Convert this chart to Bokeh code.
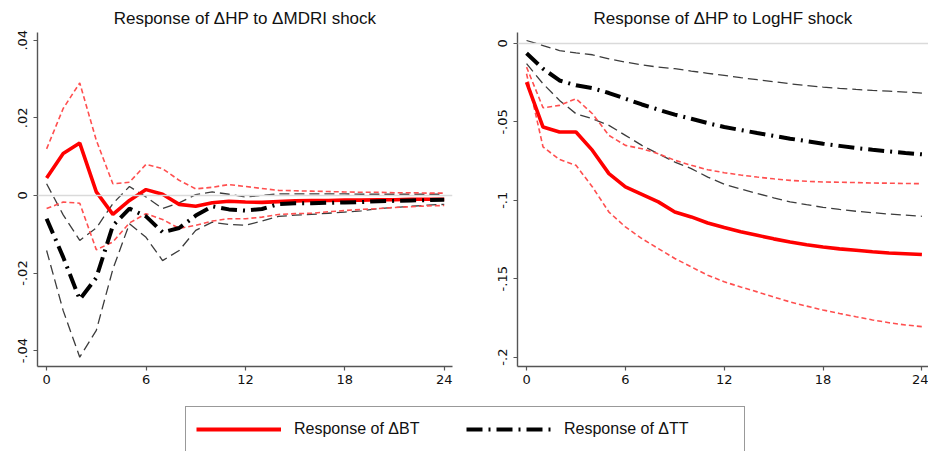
from bokeh.plotting import figure
from bokeh.layouts import column, row
from bokeh.models import (CustomJSTickFormatter, FixedTicker, Range1d, Span,
                          Legend, LegendItem)
from bokeh.embed import file_html
from bokeh.resources import INLINE

# ---------------- data ----------------
horizon = list(range(25))

# Panel 1: Response of dHP to dMDRI shock
mdri_bt = [0.0045, 0.0108, 0.0135, 0.0009, -0.0049, -0.0013, 0.0015, 0.0003, -0.0023,
           -0.0028, -0.0019, -0.0015, -0.0017, -0.0018, -0.0016, -0.0014, -0.0013,
           -0.0013, -0.0012, -0.0012, -0.0011, -0.0011, -0.0010, -0.0010, -0.0010]
mdri_bt_up = [0.0120, 0.0224, 0.0290, 0.0142, 0.0030, 0.0034, 0.0080, 0.0069, 0.0039,
              0.0017, 0.0021, 0.0028, 0.0023, 0.0018, 0.0013, 0.0012, 0.0011, 0.0010,
              0.0009, 0.0008, 0.0008, 0.0007, 0.0007, 0.0006, 0.0006]
mdri_bt_lo = [-0.0034, -0.0017, -0.0020, -0.0140, -0.0120, -0.0071, -0.0047, -0.0062,
              -0.0085, -0.0077, -0.0066, -0.0060, -0.0060, -0.0056, -0.0049, -0.0047,
              -0.0046, -0.0042, -0.0039, -0.0036, -0.0034, -0.0031, -0.0029, -0.0027,
              -0.0026]
mdri_tt = [-0.0060, -0.0159, -0.0268, -0.0212, -0.0078, -0.0034, -0.0054, -0.0095,
           -0.0084, -0.0052, -0.0028, -0.0036, -0.0039, -0.0035, -0.0022, -0.0020,
           -0.0020, -0.0019, -0.0018, -0.0017, -0.0015, -0.0014, -0.0013, -0.0012,
           -0.0011]
mdri_tt_up = [0.0030, -0.0050, -0.0116, -0.0084, -0.0021, 0.0023, -0.0004, -0.0034,
              -0.0019, 0.0002, 0.0009, 0.0003, -0.0004, 0.0000, 0.0004, 0.0004, 0.0004,
              0.0004, 0.0004, 0.0003, 0.0003, 0.0003, 0.0003, 0.0003, 0.0003]
mdri_tt_lo = [-0.0142, -0.0297, -0.0417, -0.0348, -0.0190, -0.0073, -0.0108, -0.0168,
              -0.0142, -0.0090, -0.0069, -0.0075, -0.0077, -0.0066, -0.0054, -0.0051,
              -0.0049, -0.0046, -0.0043, -0.0040, -0.0034, -0.0031, -0.0028, -0.0025,
              -0.0023]

# Panel 2: Response of dHP to LogHF shock
hf_bt = [-0.0246, -0.0533, -0.0565, -0.0565, -0.0682, -0.0830, -0.0915, -0.0962, -0.1010,
         -0.1075, -0.1106, -0.1145, -0.1174, -0.1200, -0.1223, -0.1246, -0.1266, -0.1283,
         -0.1298, -0.1310, -0.1319, -0.1328, -0.1336, -0.1341, -0.1346]
hf_bt_up = [-0.0151, -0.0410, -0.0395, -0.0352, -0.0448, -0.0586, -0.0650, -0.0671,
            -0.0703, -0.0745, -0.0777, -0.0805, -0.0824, -0.0839, -0.0852, -0.0863,
            -0.0873, -0.0879, -0.0883, -0.0885, -0.0887, -0.0890, -0.0891, -0.0893,
            -0.0894]
hf_bt_lo = [-0.0193, -0.0660, -0.0740, -0.0777, -0.0915, -0.1075, -0.1170, -0.1244,
            -0.1308, -0.1371, -0.1425, -0.1478, -0.1520, -0.1553, -0.1584, -0.1617,
            -0.1648, -0.1675, -0.1700, -0.1722, -0.1743, -0.1763, -0.1781, -0.1795,
            -0.1806]
hf_tt = [-0.0062, -0.0161, -0.0236, -0.0267, -0.0285, -0.0316, -0.0352, -0.0389, -0.0422,
         -0.0454, -0.0480, -0.0508, -0.0533, -0.0552, -0.0571, -0.0589, -0.0607, -0.0623,
         -0.0639, -0.0653, -0.0667, -0.0678, -0.0688, -0.0698, -0.0707]
hf_tt_up = [0.0019, -0.0013, -0.0045, -0.0060, -0.0072, -0.0098, -0.0119, -0.0136,
            -0.0151, -0.0161, -0.0176, -0.0190, -0.0204, -0.0218, -0.0231, -0.0244,
            -0.0257, -0.0268, -0.0278, -0.0286, -0.0293, -0.0299, -0.0304, -0.0310,
            -0.0316]
hf_tt_lo = [-0.0129, -0.0257, -0.0363, -0.0448, -0.0480, -0.0522, -0.0586, -0.0650,
            -0.0703, -0.0756, -0.0798, -0.0852, -0.0898, -0.0928, -0.0957, -0.0984,
            -0.1010, -0.1028, -0.1045, -0.1058, -0.1070, -0.1079, -0.1088, -0.1095,
            -0.1102]

x_ticks = [0, 6, 12, 18, 24]
y_ticks_left = [-0.04, -0.02, 0, 0.02, 0.04]
y_ticks_right = [-0.2, -0.15, -0.1, -0.05, 0]

titles = ["Response of \u0394HP to \u0394MDRI shock", "Response of \u0394HP to LogHF shock"]
legend_labels = ["Response of \u0394BT", "Response of \u0394TT"]

# ---------------- styles ----------------
FONT = "DejaVu Sans"
TFONT = "Liberation Sans"
RED = "#ff0000"
RED_BAND = "#ff4f4f"
BLACK_BAND = "#3c3c3c"
DASHDOT = "16 6 2 6"

fmt = CustomJSTickFormatter(code="""
    let s = String(Number(tick.toFixed(4)));
    return s.replace('0.', '.');
""")


def style_axes(p, yticks):
    p.xaxis.ticker = FixedTicker(ticks=x_ticks)
    p.yaxis.ticker = FixedTicker(ticks=yticks)
    p.yaxis.formatter = fmt
    for ax in (p.xaxis[0], p.yaxis[0]):
        ax.axis_line_color = "#555555"
        ax.axis_line_width = 1.4
        ax.major_tick_line_color = "#555555"
        ax.major_tick_line_width = 1.2
        ax.major_tick_in = 0
        ax.major_tick_out = 4
        ax.minor_tick_line_color = None
        ax.major_label_text_font = FONT
        ax.major_label_text_font_size = "13px"
        ax.major_label_text_color = "#111111"
    p.yaxis.major_label_orientation = "vertical"
    p.yaxis.major_label_standoff = 6
    p.xaxis.major_label_standoff = 4
    p.xgrid.grid_line_color = None
    p.ygrid.grid_line_color = None
    p.outline_line_color = None
    p.title.text_font = TFONT
    p.title.text_font_size = "17px"
    p.title.text_font_style = "normal"
    p.title.text_color = "#111111"
    p.title.align = "center"
    p.title.standoff = 9
    p.add_layout(Span(location=0, dimension="width", line_color="#dadada", line_width=1.5))


def draw(p, bt, bt_up, bt_lo, tt, tt_up, tt_lo):
    p.line(horizon, tt_up, line_color=BLACK_BAND, line_width=1.3, line_dash="10 5")
    p.line(horizon, tt_lo, line_color=BLACK_BAND, line_width=1.3, line_dash="10 5")
    p.line(horizon, bt_up, line_color=RED_BAND, line_width=1.6, line_dash="5 3")
    p.line(horizon, bt_lo, line_color=RED_BAND, line_width=1.6, line_dash="5 3")
    p.line(horizon, bt, line_color=RED, line_width=3.6)
    p.line(horizon, tt, line_color="black", line_width=4, line_dash=DASHDOT)


p1 = figure(width=470, height=395, output_backend="svg", toolbar_location=None,
            x_range=Range1d(-0.55, 24.5), y_range=Range1d(-0.0441, 0.042),
            title=titles[0], min_border_left=37, min_border_right=18,
            min_border_top=32, min_border_bottom=29)
style_axes(p1, y_ticks_left)
draw(p1, mdri_bt, mdri_bt_up, mdri_bt_lo, mdri_tt, mdri_tt_up, mdri_tt_lo)

p2 = figure(width=458, height=395, output_backend="svg", toolbar_location=None,
            x_range=Range1d(-0.55, 24.4), y_range=Range1d(-0.206, 0.007),
            title=titles[1], min_border_left=47, min_border_right=0,
            min_border_top=32, min_border_bottom=29)
style_axes(p2, y_ticks_right)
p2.title.offset = 3
draw(p2, hf_bt, hf_bt_up, hf_bt_lo, hf_tt, hf_tt_up, hf_tt_lo)

# legend strip (proxy renderers with a single point draw nothing themselves)
p3 = figure(width=928, height=56, output_backend="svg", toolbar_location=None,
            x_axis_location=None, y_axis_location=None,
            x_range=Range1d(0, 1), y_range=Range1d(0, 1),
            min_border=0, min_border_left=0, min_border_right=0,
            min_border_top=0, min_border_bottom=0)
p3.outline_line_color = None
p3.xgrid.grid_line_color = None
p3.ygrid.grid_line_color = None
r_bt = p3.line(x=[0], y=[0], line_color=RED, line_width=4)
r_tt = p3.line(x=[0], y=[0], line_color="black", line_width=4, line_dash=DASHDOT)
leg = Legend(items=[LegendItem(label=legend_labels[0], renderers=[r_bt]),
                    LegendItem(label=legend_labels[1], renderers=[r_tt])],
             orientation="horizontal", location=(185, -1),
             glyph_width=85, glyph_height=24, label_standoff=13, spacing=2,
             label_width=170, padding=10, margin=0,
             label_text_font=TFONT, label_text_font_size="16px",
             label_text_color="#111111",
             border_line_color="#333333", border_line_width=1.2,
             background_fill_color="white", background_fill_alpha=1)
p3.add_layout(leg)

layout = column(row(p1, p2), p3)

open("out.html", "w").write(file_html(layout, INLINE))
